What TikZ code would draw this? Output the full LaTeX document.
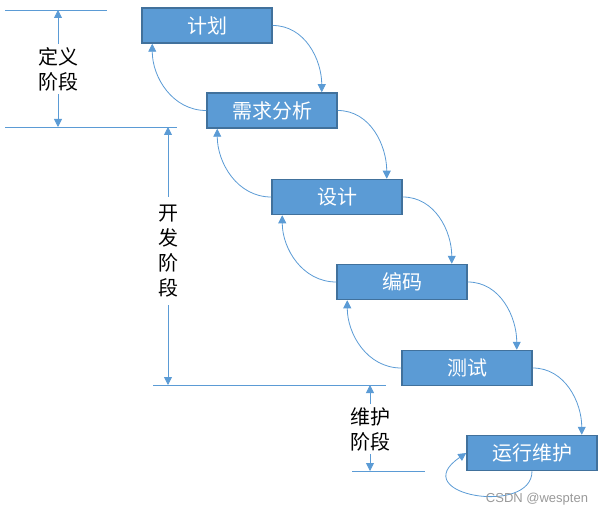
\documentclass[tikz,border=0pt]{standalone}
\usepackage{fontspec}
\setmainfont{Noto Sans CJK SC}
\newfontfamily\wmfont{Liberation Sans}
\usetikzlibrary{arrows.meta,calc}
\definecolor{boxblue}{HTML}{5B9BD5}
\definecolor{boxedge}{HTML}{41719C}
\tikzset{
  stage/.style={draw=boxedge, line width=1.5pt, fill=boxblue, text=white,
    minimum width=130pt, minimum height=35pt, inner sep=0pt,
    font=\fontsize{20}{24}\selectfont},
  flow/.style={draw=boxblue, line width=0.8pt, -{Triangle[width=8pt,length=8pt]}},
  phase/.style={align=center, inner sep=3pt, font=\fontsize{20}{25}\selectfont},
  rule/.style={draw=boxblue, line width=0.8pt},
}
\begin{document}
\begin{tikzpicture}[x=1pt,y=1pt]
      \useasboundingbox (0,0) rectangle (600,-516);
      \path
        (207,-25.5) node[stage] (plan){计划}
        (272,-110.5) node[stage] (req){需求分析}
        (337,-197) node[stage] (design){设计}
        (402,-282) node[stage] (code){编码}
        (467,-368) node[stage] (test){测试}
        (532,-453) node[stage] (maint){运行维护};
      \begin{scope}[flow]
        \draw (plan.east) to[out=0,in=90] ($(req.north east)+(-16,0)$);
        \draw (req.east) to[out=0,in=90] ($(design.north east)+(-16,0)$);
        \draw (design.east) to[out=0,in=90] ($(code.north east)+(-16,0)$);
        \draw (code.east) to[out=0,in=90] ($(test.north east)+(-16,0)$);
        \draw (test.east) to[out=0,in=90] ($(maint.north east)+(-16,0)$);
        \draw (req.west) to[out=180,in=-90] ($(plan.south west)+(11,0)$);
        \draw (design.west) to[out=180,in=-90] ($(req.south west)+(11,0)$);
        \draw (code.west) to[out=180,in=-90] ($(design.south west)+(11,0)$);
        \draw (test.west) to[out=180,in=-90] ($(code.south west)+(11,0)$);
        \draw (maint.south) .. controls +(0,-45) and +(-62,-42) .. (maint.west);
      \end{scope}
      % phase rules
      \coordinate (r0a) at (5,-10);
      \coordinate (r0b) at (107,-10);
      \coordinate (r1a) at (5,-127);
      \coordinate (r1b) at (177,-127);
      \coordinate (r2a) at (153,-385);
      \coordinate (r2b) at (386,-385);
      \coordinate (r3a) at (352,-471);
      \coordinate (r3b) at (425,-471);
      \draw[rule] (r0a) -- (r0b);
      \draw[rule] (r1a) -- (r1b);
      \draw[rule] (r2a) -- (r2b);
      \draw[rule] (r3a) -- (r3b);
      \node[phase] (def) at (58,-69) {定义\\阶段};
      \node[phase, inner sep=8pt] (dev) at (168,-251) {开\\发\\阶\\段};
      \node[phase] (mnt) at (370,-429) {维护\\阶段};
      \begin{scope}[flow]
        \draw (def.north) -- (def.north |- r0a);
        \draw (def.south) -- (def.south |- r1a);
        \draw (dev.north) -- (dev.north |- r1a);
        \draw (dev.south) -- (dev.south |- r2a);
        \draw (mnt.north) -- (mnt.north |- r2a);
        \draw (mnt.south) -- (mnt.south |- r3a);
      \end{scope}
      \node[font=\wmfont\fontsize{13}{15}\selectfont, text=gray!80] (wm) at (537,-499) {CSDN @wespten};
    \end{tikzpicture}
\end{document}
